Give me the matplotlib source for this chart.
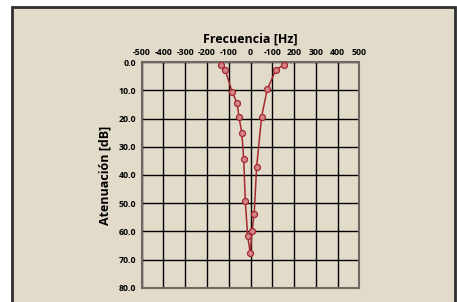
import matplotlib
matplotlib.use("Agg")
import matplotlib.pyplot as plt
from matplotlib.patches import Rectangle

# frequency offset (Hz) and attenuation (dB), in drawing order
freq = [-134, -116, -84, -62, -53, -40, -31, -24, -13, -1, 7, 17, 28, 51, 77, 116, 154]
atten = [0.8, 2.8, 10.6, 14.4, 19.3, 25.1, 34.4, 49.1, 61.7, 67.8, 60.0, 53.7, 37.3, 19.3, 9.6, 2.8, 0.8]

x_ticks = [-500, -400, -300, -200, -100, 0, 100, 200, 300, 400, 500]
x_labels = ["-500", "-400", "-300", "-200", "-100", "0", "-100", "200", "300", "400", "500"]
y_ticks = [0, 10, 20, 30, 40, 50, 60, 70, 80]

plt.rcParams["font.family"] = ["Open Sans", "DejaVu Sans"]
bg = "#e2dbca"

fig = plt.figure(figsize=(4.57, 3.02), dpi=100)
fig.patch.set_facecolor("white")
fig.patches.append(Rectangle((12 / 457, -0.05), 443 / 457, 1 - 7 / 302 + 0.05,
                             transform=fig.transFigure, facecolor=bg,
                             edgecolor="#2e2e2e", linewidth=2, zorder=-1))

ax = fig.add_axes([141.7 / 457, 1 - 287.7 / 302, 217.6 / 457, 225.4 / 302])
ax.set_zorder(1)
ax.set_facecolor(bg)
ax.plot(freq, atten, color="#a3282f", linewidth=1.1, marker="o", markersize=4.3,
        markerfacecolor="#d4868a", markeredgecolor="#a3282f", markeredgewidth=0.9,
        zorder=3)

ax.set_xlim(-500, 500)
ax.set_ylim(80, 0)
ax.set_xticks(x_ticks)
ax.set_xticklabels(x_labels, fontsize=6.3, fontweight="bold")
ax.set_yticks(y_ticks)
ax.set_yticklabels([f"{v:.1f}" for v in y_ticks], fontsize=6.3, fontweight="bold")
ax.xaxis.tick_top()
ax.xaxis.set_label_position("top")
ax.tick_params(length=0, pad=4)
ax.grid(True, color="black", linewidth=1)
for s in ax.spines.values():
    s.set_color("#6f6862")
    s.set_linewidth(1.5)

ax.set_xlabel("Frecuencia [Hz]", fontsize=9, fontweight="bold", labelpad=4)
ax.set_ylabel("Atenuación [dB]", fontsize=9, fontweight="bold", labelpad=5)

fig.savefig("out.png", dpi=100)
